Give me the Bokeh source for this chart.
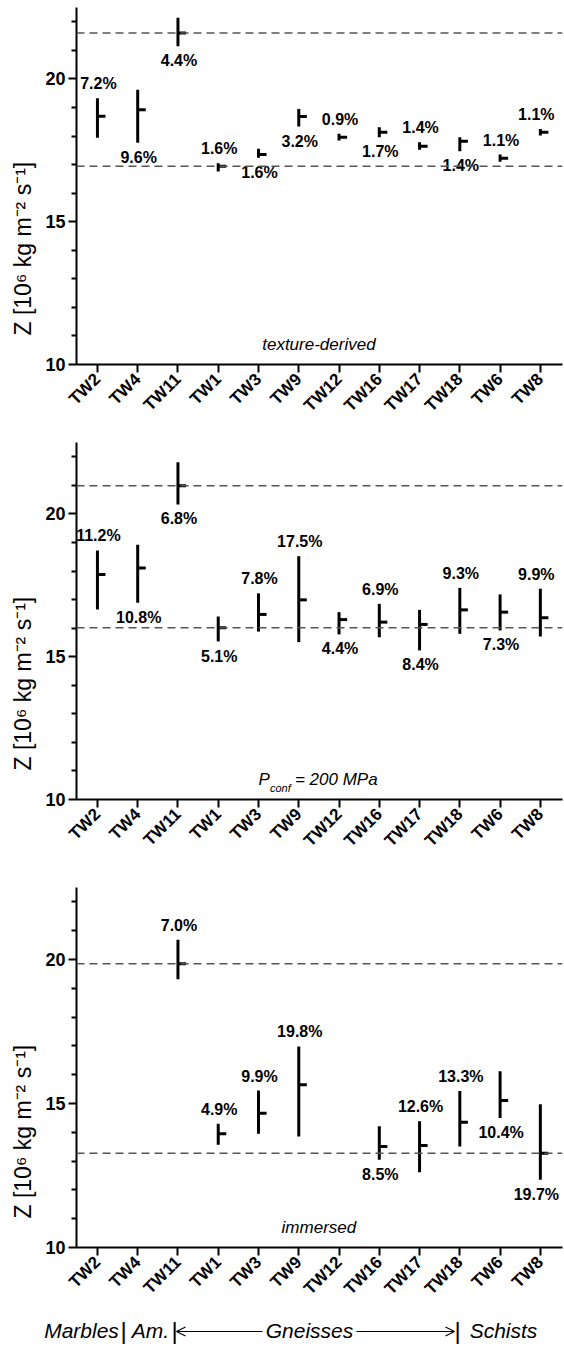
import math
from bokeh.plotting import figure
from bokeh.models import (Range1d, FixedTicker, Span, Title, Label, Arrow, OpenHead,
                          ColumnDataSource)
from bokeh.layouts import column
from bokeh.embed import file_html
from bokeh.resources import INLINE
from bokeh.core.properties import value

FONT = "Liberation Sans"

samples = ["TW2", "TW4", "TW11", "TW1", "TW3", "TW9", "TW12", "TW16", "TW17", "TW18", "TW6", "TW8"]

# Panel 1: texture-derived
tex_mean = [18.69, 18.92, 21.61, 16.94, 17.35, 18.68, 17.96, 18.13, 17.64, 17.82, 17.22, 18.13]
tex_lo   = [17.94, 17.76, 21.14, 16.76, 17.24, 18.33, 17.84, 17.96, 17.52, 17.47, 17.10, 18.02]
tex_hi   = [19.32, 19.62, 22.14, 17.05, 17.55, 18.95, 18.08, 18.31, 17.78, 17.96, 17.35, 18.25]
tex_pct  = ["7.2%", "9.6%", "4.4%", "1.6%", "1.6%", "3.2%", "0.9%", "1.7%", "1.4%", "1.4%", "1.1%", "1.1%"]
tex_side = ["above", "below", "below", "above", "below", "below", "above", "below", "above", "below", "above", "above"]
tex_ref  = [21.61, 16.94]

# Panel 2: Pconf = 200 MPa
p200_mean = [17.88, 18.11, 20.99, 16.01, 16.48, 16.99, 16.30, 16.21, 16.13, 16.64, 16.56, 16.36]
p200_lo   = [16.65, 16.89, 20.33, 15.53, 15.88, 15.51, 15.78, 15.68, 15.22, 15.80, 15.92, 15.71]
p200_hi   = [18.72, 18.92, 21.81, 16.41, 17.22, 18.52, 16.56, 16.85, 16.64, 17.41, 17.18, 17.38]
p200_pct  = ["11.2%", "10.8%", "6.8%", "5.1%", "7.8%", "17.5%", "4.4%", "6.9%", "8.4%", "9.3%", "7.3%", "9.9%"]
p200_side = ["above", "below", "below", "below", "above", "above", "below", "above", "below", "above", "below", "above"]
p200_ref  = [20.99, 16.01]

# Panel 3: immersed (no data for TW2, TW4, TW12)
imm_mean = [None, None, 19.85, 13.95, 14.66, 15.65, None, 13.51, 13.54, 14.35, 15.10, 13.27]
imm_lo   = [None, None, 19.31, 13.57, 13.95, 13.85, None, 13.05, 12.61, 13.51, 14.50, 12.35]
imm_hi   = [None, None, 20.69, 14.30, 15.45, 16.98, None, 14.21, 14.38, 15.43, 16.12, 14.97]
imm_pct  = [None, None, "7.0%", "4.9%", "9.9%", "19.8%", None, "8.5%", "12.6%", "13.3%", "10.4%", "19.7%"]
imm_side = [None, None, "above", "above", "above", "above", None, "below", "above", "above", "below", "below"]
imm_ref  = [19.85, 13.27]

y_major = [10, 15, 20]
y_minor = [11, 12, 13, 14, 16, 17, 18, 19, 21, 22]

groups = ["Marbles", "Am.", "Gneisses", "Schists"]

YLABEL = "Z [10\u2076 kg m\u207b\u00b2 s\u207b\u00b9]"


def make_panel(mean, lo, hi, pct, side, refs, height, top, bottom):
    p = figure(width=564, height=height, x_range=Range1d(0.48, 12.55), y_range=Range1d(10, 22.5),
               output_backend="svg", toolbar_location=None, title=None,
               min_border_left=76, min_border_right=2, min_border_top=top, min_border_bottom=bottom)
    p.grid.visible = False
    p.outline_line_color = None
    p.background_fill_color = "white"
    p.border_fill_color = "white"

    xa = p.xaxis[0]
    xa.ticker = FixedTicker(ticks=list(range(1, len(samples) + 1)), minor_ticks=[])
    xa.major_label_overrides = {i + 1: s for i, s in enumerate(samples)}
    xa.major_label_orientation = math.pi / 4
    xa.major_label_text_font = FONT
    xa.major_label_text_font_style = "bold"
    xa.major_label_text_font_size = "17px"
    xa.major_label_text_color = "black"
    xa.major_label_standoff = 4
    xa.axis_line_width = 2
    xa.major_tick_line_width = 2
    xa.major_tick_out = 8
    xa.major_tick_in = 0
    xa.minor_tick_line_color = None

    ya = p.yaxis[0]
    ya.ticker = FixedTicker(ticks=y_major, minor_ticks=y_minor)
    ya.major_label_text_font = FONT
    ya.major_label_text_font_style = "bold"
    ya.major_label_text_font_size = "18px"
    ya.major_label_text_color = "black"
    ya.major_label_standoff = 3
    ya.axis_line_width = 2
    ya.major_tick_line_width = 2
    ya.minor_tick_line_width = 2
    ya.major_tick_out = 8
    ya.major_tick_in = 0
    ya.minor_tick_out = 5
    ya.minor_tick_in = 0

    for r in refs:
        p.add_layout(Span(location=r, dimension="width", line_color="#555555",
                          line_width=1.5, line_dash="8 5"))

    xs, ms, los, his, ts, sd = [], [], [], [], [], []
    for i in range(len(samples)):
        if mean[i] is None:
            continue
        xs.append(i + 1); ms.append(mean[i]); los.append(lo[i]); his.append(hi[i])
        ts.append(pct[i]); sd.append(side[i])
    src = ColumnDataSource(dict(x=xs, m=ms, lo=los, hi=his, xt=[v + 0.2 for v in xs]))
    p.segment(x0="x", y0="lo", x1="x", y1="hi", source=src, line_color="black", line_width=3)
    p.segment(x0="x", y0="m", x1="xt", y1="m", source=src, line_color="black", line_width=3)

    last = len(samples)
    for s_name, ys_list, base, off in (("above", his, "bottom", -6), ("below", los, "top", 6)):
        d = dict(x=[], y=[], t=[], dx=[])
        for x, yv, t, s in zip(xs, ys_list, ts, sd):
            if s != s_name:
                continue
            d["x"].append(x); d["y"].append(yv); d["t"].append(t)
            d["dx"].append(-4 if x == last else 1)
        p.text(x="x", y="y", text="t", x_offset="dx", source=ColumnDataSource(d),
               text_align="center", text_baseline=base, y_offset=off,
               text_font=value(FONT), text_font_style="bold", text_font_size="16px",
               text_color="black")

    p.add_layout(Title(text=YLABEL, align="left", offset=29, text_font=FONT,
                       text_font_size="23px", text_font_style="normal", text_color="black",
                       standoff=14), "left")
    return p


def note(p, text):
    p.add_layout(Label(x=6.5, y=10.7, text=text, text_align="center", text_baseline="middle",
                       text_font=FONT, text_font_style="italic", text_font_size="17px",
                       text_color="black"))


p1 = make_panel(tex_mean, tex_lo, tex_hi, tex_pct, tex_side, tex_ref, 440, 7, 76)
note(p1, "texture-derived")

p2 = make_panel(p200_mean, p200_lo, p200_hi, p200_pct, p200_side, p200_ref, 440, 2, 81)
p2.add_layout(Label(x=6.5, y=10.7, text="P", text_align="right", text_baseline="middle",
                    x_offset=-49, text_font=FONT, text_font_style="italic",
                    text_font_size="17px", text_color="black"))
p2.add_layout(Label(x=6.5, y=10.7, text="conf", text_align="left", text_baseline="middle",
                    x_offset=-49, y_offset=-8, text_font=FONT, text_font_style="italic",
                    text_font_size="11px", text_color="black"))
p2.add_layout(Label(x=6.5, y=10.7, text="= 200 MPa", text_align="left", text_baseline="middle",
                    x_offset=-24, text_font=FONT, text_font_style="italic",
                    text_font_size="17px", text_color="black"))

p3 = make_panel(imm_mean, imm_lo, imm_hi, imm_pct, imm_side, imm_ref, 430, 7, 63)
note(p3, "immersed")

# group row: a full-width frame, so x is in page pixels
p4 = figure(width=564, height=41, x_range=Range1d(0, 564), y_range=Range1d(0, 41),
            output_backend="svg", toolbar_location=None, title=None,
            x_axis_location=None, y_axis_location=None,
            min_border_left=0, min_border_right=0, min_border_top=0, min_border_bottom=0)
if "frame_align" in p4.properties():
    p4.frame_align = False
p4.grid.visible = False
p4.outline_line_color = None
group_x = [81, 150, 309, 503]
for gx, g in zip(group_x, groups):
    p4.add_layout(Label(x=gx, y=21, text=g, text_align="center", text_baseline="middle",
                        text_font=FONT, text_font_style="italic", text_font_size="21px",
                        text_color="black"))
sep_x = [123, 174, 457]
for sx in sep_x:
    p4.add_layout(Label(x=sx, y=21, text="|", text_align="center", text_baseline="middle",
                        text_font=FONT, text_font_style="normal", text_font_size="24px",
                        text_color="black"))
p4.add_layout(Arrow(end=OpenHead(size=9, line_width=1.2, line_color="black"),
                    x_start=262, y_start=20, x_end=176, y_end=20,
                    line_width=1.2, line_color="black"))
p4.add_layout(Arrow(end=OpenHead(size=9, line_width=1.2, line_color="black"),
                    x_start=356, y_start=20, x_end=454, y_end=20,
                    line_width=1.2, line_color="black"))

layout = column(p1, p2, p3, p4, spacing=0)
open("out.html", "w").write(file_html(layout, INLINE))
